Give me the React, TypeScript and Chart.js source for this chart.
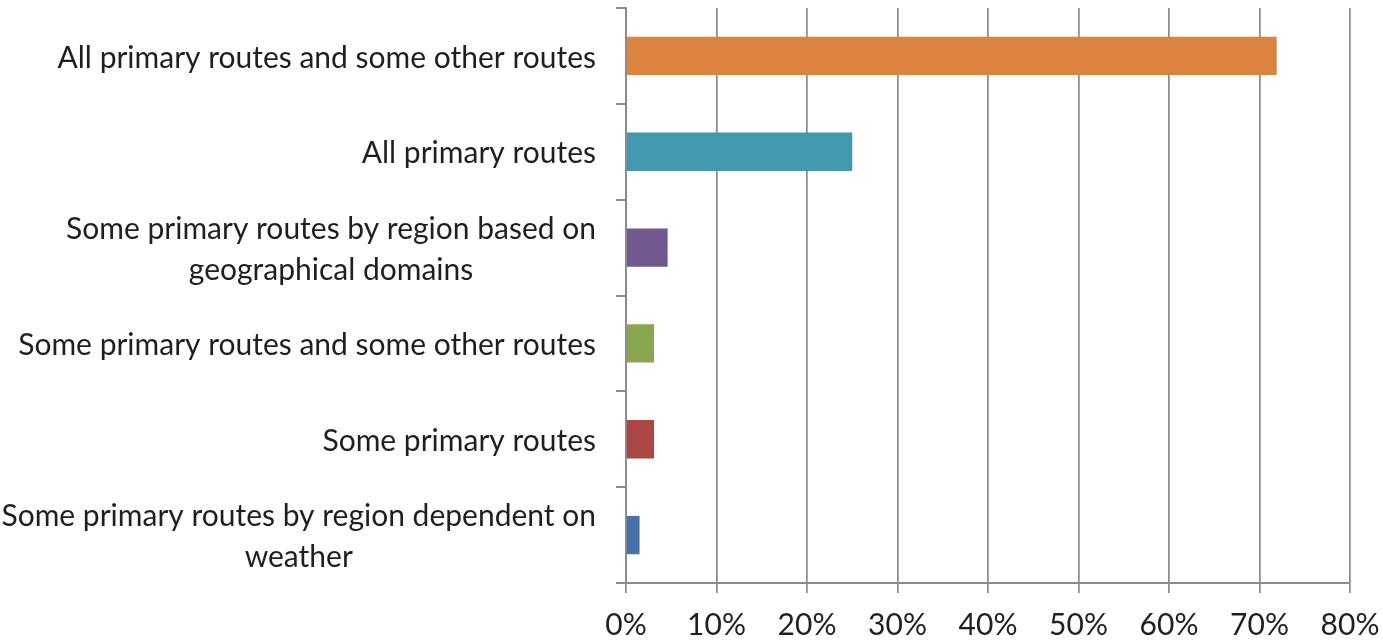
import React, { useEffect, useRef } from "react";
import { Chart, registerables } from "chart.js";

Chart.register(...registerables);

const categories: (string | string[])[] = [
  "All primary routes and some other routes",
  "All primary routes",
  ["Some primary routes by region based on", "geographical domains"],
  "Some primary routes and some other routes",
  "Some primary routes",
  ["Some primary routes by region dependent on", "weather"],
];
const values: number[] = [71.9, 25.0, 4.6, 3.1, 3.1, 1.5];
const barColors: string[] = ["#DB843D", "#4198AF", "#71588F", "#89A54E", "#AA4643", "#4572A7"];
const xTicks: number[] = [0, 10, 20, 30, 40, 50, 60, 70, 80];

const FONT = "Lato";
const FONT_SIZE = 30;
const LINE_H = 41;
const TEXT_COLOR = "#1f1f1f";
const AXIS_COLOR = "#8c8c8c";

// Draws the category labels: block right-aligned next to the axis, lines centered within the block
const categoryLabels = {
  id: "categoryLabels",
  afterDraw(chart: any) {
    const ys = chart.scales.y;
    const ctx = chart.ctx;
    ctx.save();
    ctx.font = `${FONT_SIZE}px ${FONT}`;
    ctx.fillStyle = TEXT_COLOR;
    ctx.textAlign = "center";
    ctx.textBaseline = "middle";
    const right = ys.right - 10 - 20;
    (chart.data.labels as (string | string[])[]).forEach((lab, i) => {
      const lines = Array.isArray(lab) ? lab : [lab];
      const widest = Math.max(...lines.map((l) => ctx.measureText(l).width));
      const cx = right - widest / 2;
      const cy = ys.getPixelForValue(i) + 2;
      lines.forEach((l, k) => {
        ctx.fillText(l, cx, cy - ((lines.length - 1) * LINE_H) / 2 + k * LINE_H);
      });
    });
    ctx.restore();
  },
};

export default function App() {
  const ref = useRef<HTMLCanvasElement | null>(null);
  useEffect(() => {
    if (!ref.current) return;
    const chart = new Chart(ref.current, {
      type: "bar",
      data: {
        labels: categories,
        datasets: [
          {
            data: values,
            backgroundColor: barColors,
            borderWidth: 0,
            barPercentage: 1,
            categoryPercentage: 0.4,
          },
        ],
      },
      plugins: [categoryLabels],
      options: {
        indexAxis: "y",
        animation: false,
        responsive: false,
        maintainAspectRatio: false,
        layout: { padding: { top: 8, right: 33, left: 0, bottom: 0 } },
        plugins: { legend: { display: false }, tooltip: { enabled: false } },
        scales: {
          x: {
            min: 0,
            max: 80,
            afterBuildTicks: (scale: any) => {
              scale.ticks = xTicks.map((v) => ({ value: v }));
            },
            afterFit: (scale: any) => {
              scale.height = 59;
              scale.paddingLeft = 0;
              scale.paddingRight = 0;
            },
            grid: {
              color: AXIS_COLOR,
              lineWidth: 1.75,
              drawTicks: true,
              tickLength: 10,
            },
            border: { display: true, color: AXIS_COLOR, width: 2 },
            ticks: {
              padding: 14,
              color: TEXT_COLOR,
              font: { family: FONT, size: FONT_SIZE },
              callback: (v: any) => v + "%",
              maxRotation: 0,
            },
          },
          y: {
            afterFit: (scale: any) => {
              scale.width = 626;
              scale.paddingTop = 0;
              scale.paddingBottom = 0;
            },
            grid: {
              color: AXIS_COLOR,
              lineWidth: 2,
              drawOnChartArea: false,
              drawTicks: true,
              tickLength: 10,
              offset: true,
            },
            border: { display: true, color: AXIS_COLOR, width: 2 },
            ticks: { display: false },
          },
        },
      },
    });
    return () => chart.destroy();
  }, []);
  return (
    <div style={{ position: "absolute", left: 0, top: 0, width: 1383, height: 642, background: "#fff" }}>
      <canvas ref={ref} width={1383} height={642} style={{ width: 1383, height: 642 }} />
    </div>
  );
}
